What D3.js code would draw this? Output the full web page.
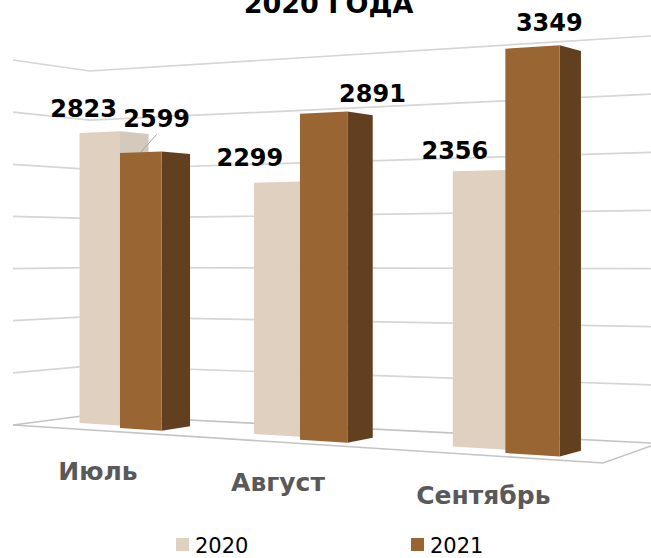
<!DOCTYPE html>
<html><head><meta charset="utf-8">
<script src="https://cdn.jsdelivr.net/npm/d3@7/dist/d3.min.js"></script>
<style>
html,body{margin:0;padding:0;background:#fff;}
svg{display:block;}
</style></head>
<body><svg id="chart" width="651" height="558"></svg>
<script>
// ---------- data ----------
const categories = ["Июль", "Август", "Сентябрь"];
const seriesNames = ["2020", "2021"];
const values2020 = [2823, 2299, 2356];
const values2021 = [2599, 2891, 3349];
const gridValues = [0, 500, 1000, 1500, 2000, 2500, 3000, 3500];
const titleText = "2020 ГОДА";

// ---------- styles / layout ----------
const frontColors = ["#e0d0c0", "#996633"];
const sideColors  = ["#d4c9bd", "#623f1f"];
// label nudges [dx, dy] relative to bar front-top centre, and leader flag
const labelNudge2020 = [[-16, -15, false], [-27, -16, false], [-24, -12, false]];
const labelNudge2021 = [[16, -25, true], [49, -11, false], [17, -16, false]];

const svg = d3.select("#chart");

// perspective camera parameters
const C = -0.18, A = 38.1, B = 476.6;      // horizontal projective warp
const yh = 250.9, D = 171.8;               // horizon & floor offset
const rowDepth = [0.014, 0];               // 2020 behind 2021
const barDepth = 0.024, xv = 1320;          // bar depth & vanishing x
const halfW = 0.081;                        // bar face width in world units

const band = d3.scaleBand().domain(categories).range([0, 1]).paddingInner(0).paddingOuter(0);
const val = d3.scaleLinear().domain([0, 3500]).range([0, 3500 * 0.1026]);

function proj(u, v, dz) {
  const z = 1 + C * u + dz;
  return { x: A + B * u / (1 + C * u), y: yh + (D - val(v)) / z, z: z };
}
function back(p) {
  const r = p.z / (p.z + barDepth);
  return { x: xv + (p.x - xv) * r, y: yh + (p.y - yh) * r };
}

// wall frame scales
const wallX = [13, 90, 651];
const wallLeft   = d3.scaleLinear().domain([0, 3500]).range([425, 60]);
const wallCorner = d3.scaleLinear().domain([0, 3500]).range([415, 71]);
const wallRight  = d3.scaleLinear().domain([0, 3500]).range([443, 36]);
const line = d3.line().x(d => d[0]).y(d => d[1]);

// gridlines
svg.append("g").selectAll("path").data(gridValues).join("path")
  .attr("d", v => line([[wallX[0], wallLeft(v)], [wallX[1], wallCorner(v)], [wallX[2], wallRight(v)]]))
  .attr("fill", "none")
  .attr("stroke", v => v === 0 ? "#c4c4c4" : "#d6d6d6")
  .attr("stroke-width", 1.7);

// floor front edge
const floorFront = d3.scaleLinear().domain([13, 603]).range([426.5, 463]);
svg.append("path")
  .attr("d", line([[wallX[0], wallLeft(0)], [603, floorFront(603)], [651, 446]]))
  .attr("fill", "none").attr("stroke", "#c4c4c4").attr("stroke-width", 1.6);

// bars
const seriesVals = [values2020, values2021];
const gBars = svg.append("g");
seriesVals.forEach((vals, s) => {
  const dz = rowDepth[s];
  vals.forEach((v, i) => {
    const c = band(categories[i]) + band.bandwidth() / 2;
    const u0 = s === 0 ? c - halfW : c;
    const u1 = s === 0 ? c : c + halfW;
    const lb = proj(u0, 0, dz), lt = proj(u0, v, dz);
    const rb = proj(u1, 0, dz), rt = proj(u1, v, dz);
    const bb = back(rb), bt = back(rt);
    gBars.append("path")
      .attr("d", line([[rt.x, rt.y], [bt.x, bt.y], [bb.x, bb.y], [rb.x, rb.y]]) + "Z")
      .attr("fill", sideColors[s]);
    gBars.append("path")
      .attr("d", line([[lt.x, lt.y], [rt.x, rt.y], [rb.x, rb.y], [lb.x, lb.y]]) + "Z")
      .attr("fill", frontColors[s]);
  });
});

// data labels
const gLab = svg.append("g");
seriesVals.forEach((vals, s) => {
  const dz = rowDepth[s];
  const nudges = s === 0 ? labelNudge2020 : labelNudge2021;
  vals.forEach((v, i) => {
    const c = band(categories[i]) + band.bandwidth() / 2;
    const um = s === 0 ? c - halfW / 2 : c + halfW / 2;
    const p = proj(um, v, dz);
    const [dx, dy, leader] = nudges[i];
    const lx = p.x + dx, ly = p.y + dy;
    if (leader) {
      gLab.append("line")
        .attr("x1", lx).attr("y1", ly + 7).attr("x2", p.x).attr("y2", p.y)
        .attr("stroke", "#a6a6a6").attr("stroke-width", 1);
    }
    gLab.append("text")
      .attr("x", lx).attr("y", ly)
      .attr("text-anchor", "middle")
      .attr("font-family", "DejaVu Sans, Verdana, sans-serif")
      .attr("font-weight", "bold").attr("font-size", 24)
      .attr("fill", "#000")
      .text(d3.format("d")(v));
  });
});

// category labels
svg.append("g").selectAll("text").data(categories).join("text")
  .attr("x", d => proj(band(d) + band.bandwidth() / 2, 0, 0).x - 22)
  .attr("y", d => floorFront(proj(band(d) + band.bandwidth() / 2, 0, 0).x - 22) + 48)
  .attr("text-anchor", "middle")
  .attr("font-family", "DejaVu Sans, Verdana, sans-serif")
  .attr("font-weight", "bold").attr("font-size", 25)
  .attr("fill", "#595959")
  .text(d => d);

// title (lower line, partly above the top edge as in the reference)
svg.append("text")
  .attr("x", 328.5).attr("y", 13)
  .attr("text-anchor", "middle")
  .attr("font-family", "DejaVu Sans, Verdana, sans-serif")
  .attr("font-weight", "bold").attr("font-size", 27)
  .attr("fill", "#000")
  .text(titleText);

// legend
const legendX = d3.scaleOrdinal().domain(seriesNames).range([176, 411]);
const lg = svg.append("g").selectAll("g").data(seriesNames).join("g")
  .attr("transform", d => `translate(${legendX(d)},538)`);
lg.append("rect").attr("width", 13).attr("height", 13)
  .attr("fill", (d, i) => frontColors[i]);
lg.append("text").attr("x", 19).attr("y", 14.5)
  .attr("font-family", "DejaVu Sans, Verdana, sans-serif")
  .attr("font-size", 21).attr("fill", "#000")
  .text(d => d);
</script>
</body></html>
